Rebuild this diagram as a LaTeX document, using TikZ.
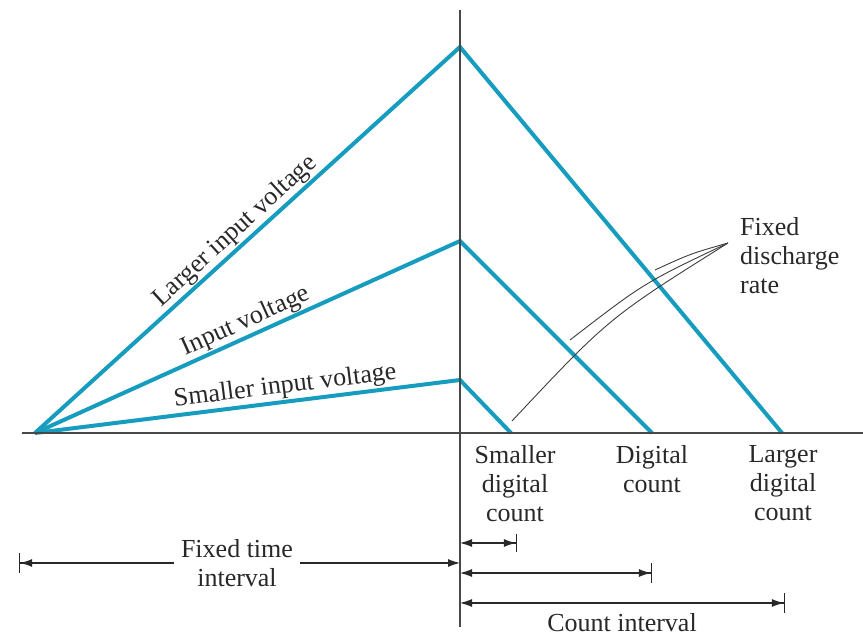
\documentclass[tikz,border=0pt]{standalone}
\usepackage{fontspec}
\setmainfont{Liberation Serif}
\usetikzlibrary{arrows.meta}
\definecolor{rampc}{RGB}{22,156,190}
\definecolor{ink}{RGB}{40,40,40}
\begin{document}
\begin{tikzpicture}[x=1pt,y=-1pt,
  ramp/.style={draw=rampc, line width=4pt, line join=miter},
  axis/.style={draw=ink!85, line width=1.3pt},
  lbl/.style={font=\fontsize{26}{29}\selectfont, text=ink, inner sep=1pt},
  rlbl/.style={lbl, anchor=south, inner sep=2.5pt},
  dim/.style={draw=ink, line width=1.1pt},
  ptr/.style={draw=ink!90, line width=0.9pt},
]
\useasboundingbox (0,0) rectangle (863,639);
% key points
\coordinate (O) at (35,433);
\coordinate (Pl) at (460,47);
\coordinate (El) at (782,433);
\coordinate (Pm) at (460,241);
\coordinate (Em) at (652,433);
\coordinate (Ps) at (460,380);
\coordinate (Es) at (511,433);
% ramps
\draw[ramp] (O) -- (Pl) -- (El);
\draw[ramp] (O) -- (Pm) -- (Em);
\draw[ramp] (O) -- (Ps) -- (Es);
% axes
\coordinate (hx0) at (22,433);
\coordinate (hx1) at (863,433);
\coordinate (vy0) at (460,10);
\coordinate (vy1) at (460,627);
\draw[axis] (hx0) -- (hx1);
\draw[axis] (vy0) -- (vy1);
% ramp labels
\node[rlbl, rotate=42.25] (lab1) at (245,242) {Larger input voltage};
\node[rlbl, rotate=24.3] (lab2) at (252,335) {Input voltage};
\node[rlbl, rotate=7.1] (lab3) at (287,401) {Smaller input voltage};
% fixed discharge rate
\node[lbl, anchor=north west, align=left] (fdr) at (739,216) {Fixed\\discharge\\rate};
\coordinate (apex) at (728,243);
\coordinate (q1) at (655,270);
\coordinate (q2) at (570,340);
\coordinate (q3) at (512,421);
\draw[ptr] (q1) .. controls (690.5,253.7) .. (apex);
\draw[ptr] (q2) .. controls (643.8,283) .. (apex);
\draw[ptr] (q3) .. controls (608.6,318) .. (apex);
% count labels
\node[lbl, anchor=north, align=center] (sdc) at (515,444) {Smaller\\digital\\count};
\node[lbl, anchor=north, align=center] (dc) at (652,444) {Digital\\count};
\node[lbl, anchor=north, align=center] (ldc) at (783,444) {Larger\\digital\\count};
% fixed time interval
\node[lbl, align=center, inner xsep=7pt] (fti) at (237,563) {Fixed time\\interval};
\coordinate (ftl) at (19,563);
\coordinate (ftr) at (460,563);
\draw[dim, {Bar[width=20pt]Latex[length=12pt,width=8pt]}-] (ftl) -- (fti.west |- ftl);
\draw[dim, -{Latex[length=12pt,width=8pt]}] (fti.east |- ftr) -- (ftr);
% count intervals
\coordinate (c1a) at (460,543);
\coordinate (c1b) at (517,543);
\coordinate (c2a) at (460,573);
\coordinate (c2b) at (652,573);
\coordinate (c3a) at (460,603);
\coordinate (c3b) at (785,603);
\draw[dim, {Latex[length=12pt,width=8pt]}-{Latex[length=12pt,width=8pt]Bar[width=18pt]}] (c1a) -- (c1b);
\draw[dim, {Latex[length=12pt,width=8pt]}-{Latex[length=12pt,width=8pt]Bar[width=20pt]}] (c2a) -- (c2b);
\draw[dim, {Latex[length=12pt,width=8pt]}-{Latex[length=12pt,width=8pt]Bar[width=20pt]}] (c3a) -- (c3b);
\node[lbl, anchor=base] (ci) at (622,631) {Count interval};
\end{tikzpicture}
\end{document}
